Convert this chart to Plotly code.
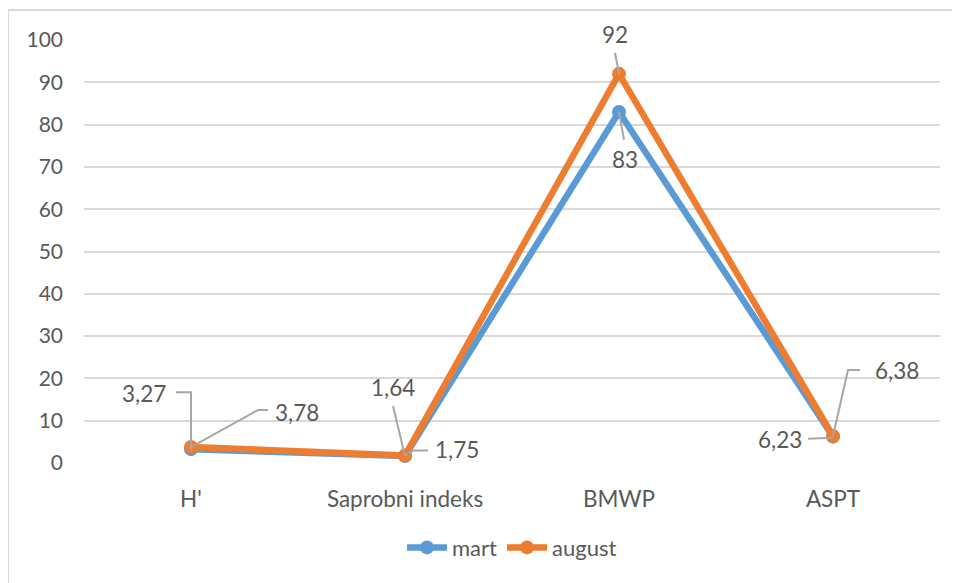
import plotly.graph_objects as go

categories = ["H'", "Saprobni indeks", "BMWP", "ASPT"]
mart = [3.27, 1.64, 83, 6.23]
august = [3.78, 1.75, 92, 6.38]
mart_labels = ["3,27", "1,64", "83", "6,23"]
august_labels = ["3,78", "1,75", "92", "6,38"]
y_ticks = list(range(0, 101, 10))

BLUE = "#5B9BD5"
ORANGE = "#ED7D31"
TXT = "#595959"
LEAD = "#A6A6A6"
FONT = "Lato, Calibri, sans-serif"

xs = list(range(len(categories)))

fig = go.Figure()
fig.add_trace(go.Scatter(x=xs, y=mart, name="mart", mode="lines+markers",
                         line=dict(color=BLUE, width=6.5), marker=dict(size=14, color=BLUE)))
fig.add_trace(go.Scatter(x=xs, y=august, name="august", mode="lines+markers",
                         line=dict(color=ORANGE, width=6.5), marker=dict(size=14, color=ORANGE)))

# label offsets (px, +up) and leader paths relative to point
mart_off = [(-47, 56), (-12, 69), (6, -48), (-53, -3)]
mart_lead = ["M0,0 L0,57 L-15,57", "M0,0 L-12,50", "M0,0 L5,-28", "M0,-1 L-25,-2"]
aug_off = [(106, 35), (52, 6), (-4, 39), (64, 66)]
aug_lead = ["M0,0 L67,37 L77,37", "M0,0 L8,5 L23,5", "M0,0 L-4,21", "M0,0 L15,66 L27,66"]

annotations = []
shapes = []
for vals, labs, offs, leads in [(mart, mart_labels, mart_off, mart_lead),
                                (august, august_labels, aug_off, aug_lead)]:
    for i, (v, lab, off, lead) in enumerate(zip(vals, labs, offs, leads)):
        shapes.append(dict(type="path", xref="x", yref="y", xsizemode="pixel", ysizemode="pixel",
                           xanchor=i, yanchor=v, path=lead,
                           line=dict(color=LEAD, width=2)))
        annotations.append(dict(x=i, y=v, xref="x", yref="y", text=lab, showarrow=False,
                                xshift=off[0], yshift=off[1],
                                font=dict(size=22.5, color=TXT, family=FONT)))

# outer chart border (page offset of 8px body margin compensated)
shapes.append(dict(type="rect", xref="paper", yref="paper",
                   x0=(8 - 84) / 856, x1=(990 - 84) / 856,
                   y0=(463 - 600) / 423, y1=(463 - 10) / 423,
                   line=dict(color="#D9D9D9", width=2), layer="below"))

fig.update_layout(
    width=952, height=575,
    margin=dict(l=76, r=20, t=32, b=120),
    paper_bgcolor="white", plot_bgcolor="white",
    font=dict(family=FONT, size=21, color=TXT),
    showlegend=True,
    legend=dict(orientation="h", x=0.5, xanchor="center", y=-0.20, yanchor="middle",
                font=dict(size=22, color=TXT), itemwidth=40),
    annotations=annotations,
    shapes=shapes,
    xaxis=dict(range=[-0.5, 3.5], tickvals=xs, ticktext=categories, showgrid=False,
               zeroline=False, showline=False, ticks="", ticklabelstandoff=20,
               tickfont=dict(size=22.5, color=TXT)),
    yaxis=dict(range=[0, 100], tickvals=y_ticks, showgrid=True, gridcolor="#D9D9D9",
               gridwidth=2, zeroline=False, showline=False, ticks="", ticklabelstandoff=20,
               tickfont=dict(size=21, color=TXT)),
)

fig.write_html("out.html")
